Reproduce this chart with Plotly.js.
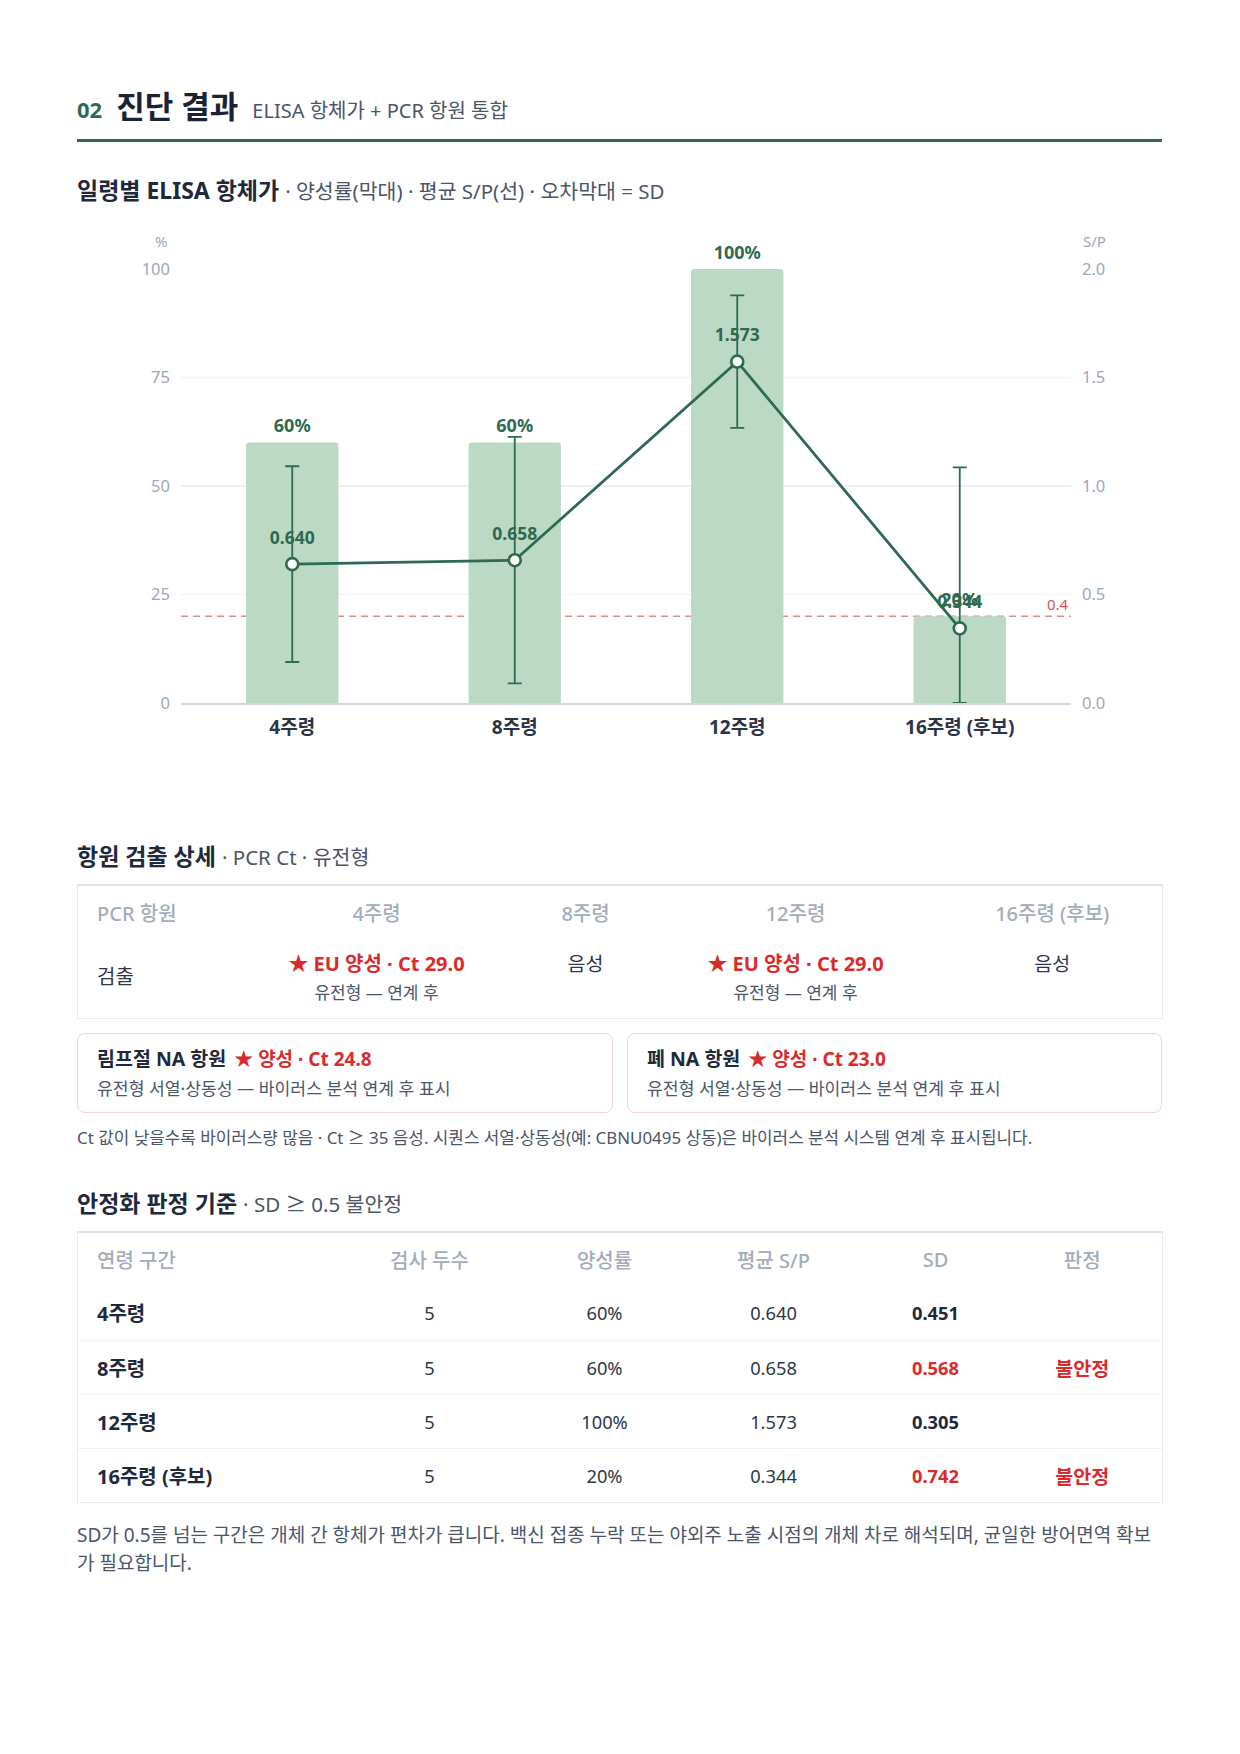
<!DOCTYPE html>
<html lang="ko">
<head>
<meta charset="utf-8">
<script src="https://cdn.plot.ly/plotly-3.0.1.min.js"></script>
<style>
  html,body{margin:0;padding:0;background:#fff;}
  body{width:1240px;height:1754px;position:relative;font-family:"Noto Sans","Noto Sans CJK KR",sans-serif;color:#1e293b;}
  .abs{position:absolute;white-space:nowrap;}
  .sec{font-size:23px;font-weight:700;color:#1e293b;line-height:32px;}
  .sec .sub{font-size:20.5px;font-weight:400;color:#4a5568;}
  table{border-collapse:collapse;table-layout:fixed;}
  .box{border:1px solid #e5eaf0;border-top:2px solid #dde4ed;}
  th{font-weight:500;color:#a3acba;font-size:20px;}
  .red{color:#d92b2b;}
  .card{position:absolute;top:1033px;height:80px;box-sizing:border-box;border:1.5px solid #f3d3d3;border-radius:8px;padding:12px 0 0 19px;}
  .card .t{font-size:19.5px;font-weight:700;line-height:26px;color:#1e293b;}
  .card .t .red{margin-left:8px;font-size:19px;}
  .card .s{font-size:17.2px;line-height:22px;color:#4a5568;margin-top:6px;}
</style>
</head>
<body>

<div class="abs" style="left:77px;top:84px;line-height:44px;">
  <span style="color:#2d6a4f;font-weight:700;font-size:22px;">02</span><span style="font-weight:700;font-size:31px;margin-left:14px;color:#1a2233;">진단 결과</span><span style="font-size:20px;color:#4a5568;margin-left:14px;">ELISA 항체가 + PCR 항원 통합</span>
</div>
<div class="abs" style="left:77px;top:139px;width:1085px;height:3px;background:#2d6a4f;"></div>

<div class="abs sec" style="left:77px;top:174px;">일령별 ELISA 항체가 <span class="sub">· 양성률(막대) · 평균 S/P(선) · 오차막대 = SD</span></div>

<div id="chart" class="abs" style="left:77px;top:220px;width:1085px;height:540px;"></div>

<div class="abs sec" style="left:77px;top:840px;">항원 검출 상세 <span class="sub">· PCR Ct · 유전형</span></div>

<table id="pcr" class="abs box" style="left:77px;top:884px;width:1085px;"></table>

<div id="cards"></div>

<div class="abs" style="left:77px;top:1127px;line-height:22px;font-size:16.9px;color:#4a5568;">Ct 값이 낮을수록 바이러스량 많음 · Ct ≥ 35 음성. 시퀀스 서열·상동성(예: CBNU0495 상동)은 바이러스 분석 시스템 연계 후 표시됩니다.</div>

<div class="abs sec" style="left:77px;top:1187px;">안정화 판정 기준 <span class="sub">· SD ≥ 0.5 불안정</span></div>

<table id="stab" class="abs box" style="left:77px;top:1231px;width:1085px;"></table>

<div class="abs" style="left:77px;top:1521px;width:1085px;white-space:normal;line-height:28px;font-size:19px;color:#4a5568;">SD가 0.5를 넘는 구간은 개체 간 항체가 편차가 큽니다. 백신 접종 누락 또는 야외주 노출 시점의 개체 차로 해석되며, 균일한 방어면역 확보가 필요합니다.</div>

<script>
// ---- data ----
const categories   = ['4주령', '8주령', '12주령', '16주령 (후보)'];
const positiveRate = [60, 60, 100, 20];           // %
const meanSP       = [0.640, 0.658, 1.573, 0.344];
const sdSP         = [0.451, 0.568, 0.305, 0.742];
const sampleCounts = [5, 5, 5, 5];
const cutoffSP     = 0.4;
const sdLimit      = 0.5;
const leftTicks    = [0, 25, 50, 75, 100];
const rightTicks   = [0, 0.5, 1.0, 1.5, 2.0];

const pcrResult    = ['EU 양성 · Ct 29.0', '음성', 'EU 양성 · Ct 29.0', '음성'];
const pcrPositive  = [true, false, true, false];
const pcrGenotype  = ['유전형 — 연계 후', '', '유전형 — 연계 후', ''];
const naTissues    = ['림프절 NA 항원', '폐 NA 항원'];
const naCt         = [24.8, 23.0];

// ---- chart ----
const GREEN = '#2d6a4f';
const traces = [
  {
    type: 'bar', x: categories, y: positiveRate, yaxis: 'y',
    marker: {color: '#bcd9c6'}, hoverinfo: 'skip'
  },
  {
    type: 'scatter', mode: 'lines+markers', x: categories, y: meanSP, yaxis: 'y2',
    line: {color: GREEN, width: 2.8},
    marker: {size: 12, color: '#ffffff', line: {color: GREEN, width: 2.6}},
    error_y: {type: 'data', symmetric: false, array: sdSP,
              arrayminus: sdSP.map((s, i) => Math.min(s, meanSP[i])),
              color: GREEN, thickness: 1.8, width: 7},
    cliponaxis: false, hoverinfo: 'skip'
  },
  {
    // bar value labels
    type: 'scatter', mode: 'markers+text', x: categories, y: positiveRate, yaxis: 'y',
    marker: {size: 8, opacity: 0},
    text: positiveRate.map(v => v + '%'), textposition: 'top center',
    textfont: {size: 18, color: GREEN, weight: 700}, cliponaxis: false, hoverinfo: 'skip'
  },
  {
    // line value labels
    type: 'scatter', mode: 'markers+text', x: categories, y: meanSP, yaxis: 'y2',
    marker: {size: 24, opacity: 0},
    text: meanSP.map(v => v.toFixed(3)), textposition: 'top center',
    textfont: {size: 17.5, color: GREEN, weight: 700}, cliponaxis: false, hoverinfo: 'skip'
  }
];

const layout = {
  width: 1085, height: 540,
  margin: {l: 104, r: 91, t: 49, b: 57},
  paper_bgcolor: '#ffffff', plot_bgcolor: '#ffffff',
  font: {family: '"Noto Sans", "Noto Sans CJK KR", sans-serif'},
  showlegend: false,
  bargap: 0.585,
  barcornerradius: 3,
  xaxis: {
    type: 'category', showgrid: false, zeroline: false,
    showline: true, linecolor: '#cfd8e3', linewidth: 1.5,
    ticks: '', ticklabelstandoff: 7,
    tickfont: {size: 19, color: '#2a3446', weight: 700}
  },
  yaxis: {
    range: [0, 100], tickvals: leftTicks, ticktext: leftTicks.map(String),
    showgrid: true, gridcolor: '#edf1f4', gridwidth: 1.5,
    zeroline: false, showline: false, ticks: '', ticklabelstandoff: 10,
    tickfont: {size: 16.5, color: '#9ba8bc'}
  },
  yaxis2: {
    overlaying: 'y', side: 'right', range: [0, 2],
    tickvals: rightTicks, ticktext: rightTicks.map(v => v.toFixed(1)),
    showgrid: false, zeroline: false, showline: false, ticks: '', ticklabelstandoff: 10,
    tickfont: {size: 16.5, color: '#9ba8bc'}
  },
  shapes: [{
    type: 'line', xref: 'paper', x0: 0, x1: 1, yref: 'y2', y0: cutoffSP, y1: cutoffSP,
    line: {color: '#e08c8c', width: 1.5, dash: '7px,5px'}, layer: 'below'
  }],
  annotations: [
    {xref: 'paper', yref: 'paper', x: 0, y: 1, xanchor: 'right', yanchor: 'middle',
     xshift: -12, yshift: 28, text: '%', showarrow: false, font: {size: 15, color: '#9ba8bc'}},
    {xref: 'paper', yref: 'paper', x: 1, y: 1, xanchor: 'left', yanchor: 'middle',
     xshift: 10, yshift: 28, text: 'S/P', showarrow: false, font: {size: 15, color: '#9ba8bc'}},
    {xref: 'paper', yref: 'y2', x: 1, y: cutoffSP, xanchor: 'right', yanchor: 'bottom',
     yshift: 0, text: String(cutoffSP), showarrow: false, font: {size: 15, color: '#d9534f'}}
  ]
};

Plotly.newPlot('chart', traces, layout, {displayModeBar: false, staticPlot: true});

// ---- PCR table ----
(function(){
  const w = [153, 292, 126, 294, 220];
  let h = '<colgroup>' + w.map(x => '<col style="width:' + x + 'px">').join('') + '</colgroup>';
  h += '<tr style="height:54px">' +
       '<th style="text-align:left;padding-left:19px">PCR 항원</th>' +
       categories.map(c => '<th style="text-align:center">' + c + '</th>').join('') + '</tr>';
  h += '<tr style="height:79px"><td style="padding-left:19px;font-size:20px;color:#2d3748;vertical-align:middle;padding-bottom:6px">검출</td>';
  categories.forEach((c, i) => {
    if (pcrPositive[i]) {
      h += '<td style="text-align:center;vertical-align:top;padding-top:12px">' +
           '<div class="red" style="font-size:20px;font-weight:700;line-height:26px">★ ' + pcrResult[i] + '</div>' +
           '<div style="font-size:17px;color:#4a5568;line-height:22px;margin-top:5px">' + pcrGenotype[i] + '</div></td>';
    } else {
      h += '<td style="text-align:center;vertical-align:top;padding-top:12px;font-size:19.5px;color:#2d3748;line-height:26px">' + pcrResult[i] + '</td>';
    }
  });
  h += '</tr>';
  document.getElementById('pcr').innerHTML = h;
})();

// ---- NA cards ----
(function(){
  const lefts = [77, 627], widths = [536, 535];
  let h = '';
  naTissues.forEach((t, i) => {
    h += '<div class="card" style="left:' + lefts[i] + 'px;width:' + widths[i] + 'px">' +
         '<div class="t">' + t + '<span class="red">★ 양성 · Ct ' + naCt[i].toFixed(1) + '</span></div>' +
         '<div class="s">유전형 서열·상동성 — 바이러스 분석 연계 후 표시</div></div>';
  });
  document.getElementById('cards').innerHTML = h;
})();

// ---- stability table ----
(function(){
  const w = [251, 202, 148, 190, 134, 160];
  const heads = ['연령 구간', '검사 두수', '양성률', '평균 S/P', 'SD', '판정'];
  let h = '<colgroup>' + w.map(x => '<col style="width:' + x + 'px">').join('') + '</colgroup>';
  h += '<tr style="height:54px">' + heads.map((t, i) =>
        '<th style="font-size:20px;text-align:' + (i === 0 ? 'left;padding-left:19px' : 'center') + '">' + t + '</th>').join('') + '</tr>';
  categories.forEach((c, i) => {
    const bad = sdSP[i] >= sdLimit;
    const border = i < categories.length - 1 ? 'border-bottom:1.5px solid #edf1f5;' : '';
    const td = 'font-size:18.3px;color:#2d3748;text-align:center;' + border;
    h += '<tr style="height:54px">' +
      '<td style="' + border + 'padding-left:19px;font-size:20px;font-weight:700;color:#1e293b">' + c + '</td>' +
      '<td style="' + td + '">' + sampleCounts[i] + '</td>' +
      '<td style="' + td + '">' + positiveRate[i] + '%</td>' +
      '<td style="' + td + '">' + meanSP[i].toFixed(3) + '</td>' +
      '<td style="' + td + 'font-weight:700;color:' + (bad ? '#d92b2b' : '#1e293b') + '">' + sdSP[i].toFixed(3) + '</td>' +
      '<td style="' + td + 'font-weight:700;color:#d92b2b;font-size:19.5px">' + (bad ? '불안정' : '') + '</td></tr>';
  });
  document.getElementById('stab').innerHTML = h;
})();
</script>
</body>
</html>
